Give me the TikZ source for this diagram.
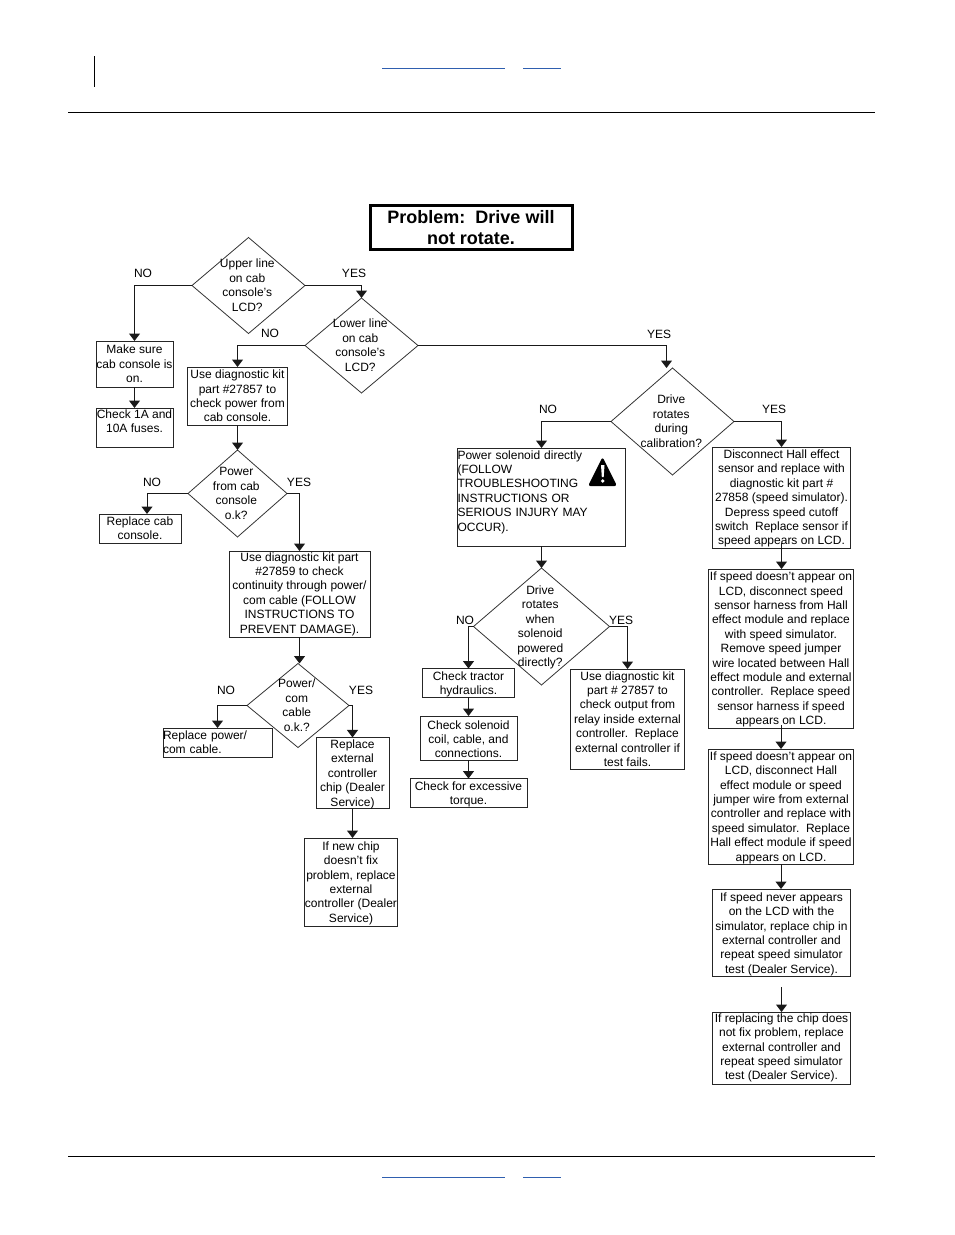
\documentclass[tikz,border=0pt]{standalone}
\usepackage{fontspec}
\setmainfont{Liberation Sans}
\usetikzlibrary{arrows.meta,shapes.geometric}

% text of a decision stays out of the size of its diamond
\newcommand{\dtxt}[1]{\smash{\makebox[0pt]{\hspace*{-2.4pt}\raisebox{-4.2pt}{\begin{tabular}[c]{@{}c@{}}#1\end{tabular}}}}}
% pushes the lines of a box down a little
\newcommand{\topgap}[1]{\rule{0pt}{#1}}

\definecolor{linkblue}{RGB}{47,95,175}

\tikzset{
    procbox/.style 2 args={draw=black!85,line width=1pt,inner sep=0pt,outer sep=0pt,
        minimum width=#1,minimum height=#2,align=center,
        font=\fontsize{12}{14.4}\selectfont},
    leftbox/.style 2 args={procbox={#1}{#2},text width=#1,align=left},
    decision/.style 2 args={diamond,draw=black!80,line width=0.8pt,inner sep=0pt,outer sep=0pt,
        minimum width=#1,minimum height=#2,font=\fontsize{12}{14.4}\selectfont},
    flow/.style={-{Triangle[width=11pt,length=7.5pt]},black!90,line width=1pt},
    answer/.style={font=\fontsize{12}{14.4}\selectfont,inner sep=0pt},
    linkline/.style={line width=1.2pt,color=linkblue},
}

\begin{document}
\begin{tikzpicture}[x=1pt,y=-1pt]
    \useasboundingbox (0,0) rectangle (954,1235);

    % page rules and links
    \draw[line width=1pt] (68,112.5) -- (875,112.5);
    \draw[line width=1pt] (68,1156.5) -- (875,1156.5);
    \draw[line width=1pt] (94.5,56) -- (94.5,87);
    \foreach \y in {68.5,1177.5} {
        \draw[linkline] (382,\y) -- (505,\y);
        \draw[linkline] (523,\y) -- (561,\y);
    }

    \node[procbox={202pt}{44pt},line width=3pt,draw=black,font=\fontsize{18}{21.6}\selectfont\bfseries] (title) at (471,227.5)
        {Problem:\ \ Drive will\\not rotate.};

    % decisions
    \node[decision={113pt}{96pt}] (upper) at (248.5,285.5) {\dtxt{Upper line\\on cab\\console's\\LCD?}};
    \node[decision={113pt}{95pt}] (lower) at (361.5,345.5) {\dtxt{Lower line\\on cab\\console's\\LCD?}};
    \node[decision={99pt}{87pt}] (power) at (237.5,493.5) {\dtxt{Power\\from cab\\console\\o.k?}};
    \node[decision={102pt}{84pt}] (cable) at (298,705.5) {\dtxt{Power/\\com\\cable\\o.k.?}};
    \node[decision={123pt}{107pt}] (calib) at (672.5,421.5) {\dtxt{Drive\\rotates\\during\\calibration?}};
    \node[decision={136pt}{117pt}] (direct) at (541.5,626.5) {\dtxt{Drive\\rotates\\when\\solenoid\\powered\\directly?}};

    % left branch
    \node[procbox={77pt}{46pt}] (oncheck) at (134.5,364) {Make sure\\cab console is\\on.};
    \node[procbox={77pt}{39pt}] (fuses) at (134.5,427.5) {Check 1A and\\10A fuses.\\[-2pt]\mbox{}};
    \node[procbox={100pt}{58pt}] (kitpower) at (237.5,396) {Use diagnostic kit\\part \#27857 to\\check power from\\cab console.};
    \node[procbox={82pt}{29pt}] (repcab) at (140,528.5) {Replace cab\\console.};
    \node[procbox={141pt}{86pt}] (kitcable) at (299.5,594) {Use diagnostic kit part\\\#27859 to check\\continuity through power/\\com cable (FOLLOW\\INSTRUCTIONS TO\\PREVENT DAMAGE).};
    \node[leftbox={109pt}{29pt}] (repcable) at (217.5,742.5) {Replace power/\\com cable.};
    \node[procbox={73pt}{70pt}] (repchip) at (352.5,773) {\topgap{11pt}Replace\\external\\controller\\chip (Dealer\\Service)};
    \node[procbox={92pt}{88pt}] (newchip) at (351,882) {\topgap{11pt}If new chip\\doesn't fix\\problem, replace\\external\\controller (Dealer\\Service)};

    % middle branch
    \node[leftbox={168pt}{98pt}] (solenoid) at (541.5,497) {Power solenoid directly\\(FOLLOW\\TROUBLESHOOTING\\INSTRUCTIONS OR\\SERIOUS INJURY MAY\\OCCUR).\\[-2pt]\mbox{}};
    \node[procbox={92pt}{28pt}] (tractor) at (468.5,683) {\topgap{12pt}Check tractor\\hydraulics.};
    \node[procbox={97pt}{44pt}] (coil) at (468.5,738) {\topgap{11pt}Check solenoid\\coil, cable, and\\connections.};
    \node[procbox={117pt}{28pt}] (torque) at (468.5,793) {\topgap{12pt}Check for excessive\\torque.};
    \node[procbox={114pt}{100pt}] (relay) at (627.5,719) {Use diagnostic kit\\part \# 27857 to\\check output from\\relay inside external\\controller.\ \ Replace\\external controller if\\test fails.};

    % warning sign
    \fill[black,rounded corners=2.5pt] (602.5,457) -- (617,486) -- (588,486) -- cycle;
    \fill[white] (601,465) -- (604.5,465) -- (603.7,477) -- (601.8,477) -- cycle;
    \fill[white] (602.75,481) circle (1.8pt);

    % right branch
    \node[procbox={138pt}{101pt}] (hall) at (781.5,497.5) {\topgap{11pt}Disconnect Hall effect\\sensor and replace with\\diagnostic kit part \#\\27858 (speed simulator).\\Depress speed cutoff\\switch\ \ Replace sensor if\\speed appears on LCD.};
    \node[procbox={145pt}{159pt}] (harness) at (781,648.5) {\topgap{11pt}If speed doesn't appear on\\LCD, disconnect speed\\sensor harness from Hall\\effect module and replace\\with speed simulator.\\Remove speed jumper\\wire located between Hall\\effect module and external\\controller.\ \ Replace speed\\sensor harness if speed\\appears on LCD.};
    \node[procbox={145pt}{115pt}] (module) at (781,806.5) {\topgap{11pt}If speed doesn't appear on\\LCD, disconnect Hall\\effect module or speed\\jumper wire from external\\controller and replace with\\speed simulator.\ \ Replace\\Hall effect module if speed\\appears on LCD.};
    \node[procbox={138pt}{87pt}] (never) at (781.5,932.5) {\topgap{12pt}If speed never appears\\on the LCD with the\\simulator, replace chip in\\external controller and\\repeat speed simulator\\test (Dealer Service).};
    \node[procbox={138pt}{72pt}] (replaced) at (781.5,1048) {If replacing the chip does\\not fix problem, replace\\external controller and\\repeat speed simulator\\test (Dealer Service).};

    % answers
    \foreach \txt/\x/\y in {NO/143/273,YES/354/273,NO/270/333,NO/152/482,YES/299/482,
        NO/226/690,YES/361/690,NO/548/409,YES/659/334,YES/774/409,NO/465/620,YES/621/620}
        \node[answer] (ans-\x-\y) at (\x,\y) {\txt};

    % connectors
    \draw[flow] (upper.west) -| (oncheck.north);
    \draw[flow] (upper.east) -| (lower.north);
    \draw[flow] (oncheck.south) -- (fuses.north);
    \draw[flow] (lower.west) -| (kitpower.north);
    \draw[flow] (lower.east) -| ([xshift=-6pt]calib.north);
    \draw[flow] (kitpower.south) -- (kitpower.south |- power.north);
    \draw[flow] (power.west) -| ([xshift=7pt]repcab.north);
    \draw[flow] (power.east) -| (kitcable.north);
    \draw[flow] (kitcable.south) -- (kitcable.south |- cable.north);
    \draw[flow] (cable.west) -| (repcable.north);
    \draw[flow] (cable.east) -| (repchip.north);
    \draw[flow] (repchip.south) -- (repchip.south |- newchip.north);
    \draw[flow] (calib.west) -| (solenoid.north);
    \draw[flow] (calib.east) -| (hall.north);
    \draw[flow] (solenoid.south) -- (direct.north);
    \draw[flow] (direct.west) -| (tractor.north);
    \draw[flow] (direct.east) -| (relay.north);
    \draw[flow] (tractor.south) -- (tractor.south |- coil.north);
    \draw[flow] (coil.south) -- (coil.south |- torque.north);
    \draw[flow] ([yshift=5pt]hall.south) -- (hall.south |- harness.north);
    \draw[flow] ([yshift=3pt]harness.south) -- (harness.south |- module.north);
    \draw[flow] (module.south) -- (module.south |- never.north);
    \draw[flow] ([yshift=-11pt]never.south) -- (replaced.north);
\end{tikzpicture}
\end{document}
